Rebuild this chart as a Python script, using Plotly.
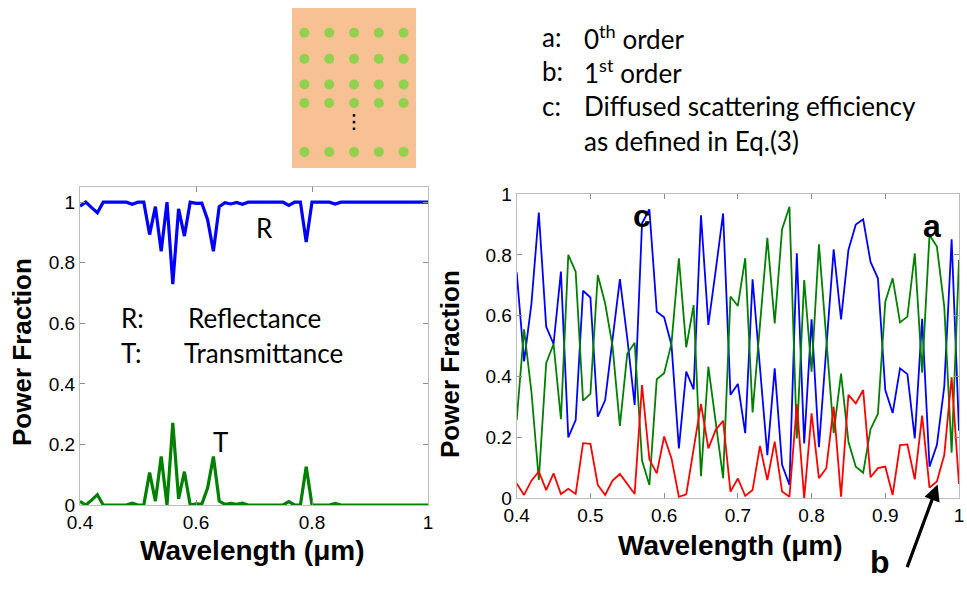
import plotly.graph_objects as go

W, H = 967, 603

# ---------------- data ----------------
wavelength = [0.40, 0.41, 0.42, 0.43, 0.44, 0.45, 0.46, 0.47, 0.48, 0.49,
              0.50, 0.51, 0.52, 0.53, 0.54, 0.55, 0.56, 0.57, 0.58, 0.59,
              0.60, 0.61, 0.62, 0.63, 0.64, 0.65, 0.66, 0.67, 0.68, 0.69,
              0.70, 0.71, 0.72, 0.73, 0.74, 0.75, 0.76, 0.77, 0.78, 0.79,
              0.80, 0.81, 0.82, 0.83, 0.84, 0.85, 0.86, 0.87, 0.88, 0.89,
              0.90, 0.91, 0.92, 0.93, 0.94, 0.95, 0.96, 0.97, 0.98, 0.99, 1.00]

reflectance = [0.987, 1.0, 0.982, 0.965, 1.0, 1.0, 1.0, 1.0, 1.0, 0.993,
               1.0, 1.0, 0.893, 0.985, 0.838, 1.0, 0.729, 0.978, 0.888, 1.0,
               0.996, 0.997, 0.942, 0.838, 0.985, 0.998, 0.994, 0.999, 0.993, 1.0,
               1.0, 1.0, 1.0, 1.0, 1.0, 1.0, 0.989, 1.0, 1.0, 0.868,
               1.0, 1.0, 1.0, 1.0, 0.994, 1.0, 1.0, 1.0, 1.0, 1.0,
               1.0, 1.0, 1.0, 1.0, 1.0, 1.0, 0.999, 0.999, 0.999, 1.0, 1.0]

transmittance = [0.012, 0.0, 0.016, 0.034, 0.0, 0.0, 0.0, 0.0, 0.0, 0.006,
                 0.0, 0.0, 0.107, 0.013, 0.16, 0.0, 0.271, 0.02, 0.11, 0.0,
                 0.004, 0.003, 0.056, 0.16, 0.013, 0.002, 0.005, 0.002, 0.006, 0.0,
                 0.0, 0.0, 0.0, 0.0, 0.0, 0.0, 0.011, 0.0, 0.0, 0.126,
                 0.0, 0.0, 0.0, 0.0, 0.005, 0.0, 0.0, 0.0, 0.0, 0.0,
                 0.0, 0.0, 0.0, 0.0, 0.0, 0.0, 0.001, 0.001, 0.001, 0.0, 0.0]

order0 = [0.743, 0.45, 0.64, 0.939, 0.564, 0.507, 0.745, 0.2, 0.257, 0.682,
          0.66, 0.268, 0.323, 0.52, 0.72, 0.526, 0.307, 0.904, 0.95, 0.613,
          0.595, 0.504, 0.164, 0.416, 0.358, 0.93, 0.57, 0.75, 0.936, 0.34,
          0.376, 0.214, 0.72, 0.43, 0.142, 0.427, 0.11, 0.044, 0.805, 0.18,
          0.588, 0.168, 0.48, 0.818, 0.588, 0.816, 0.9, 0.917, 0.777, 0.723,
          0.356, 0.28, 0.427, 0.408, 0.197, 0.59, 0.104, 0.175, 0.367, 0.851, 0.222]

diffuse = [0.257, 0.555, 0.35, 0.06, 0.444, 0.507, 0.26, 0.8, 0.745, 0.321,
           0.343, 0.734, 0.64, 0.5, 0.238, 0.476, 0.511, 0.124, 0.044, 0.391,
           0.411, 0.509, 0.789, 0.496, 0.635, 0.073, 0.433, 0.257, 0.066, 0.663,
           0.632, 0.789, 0.282, 0.57, 0.856, 0.575, 0.884, 0.958, 0.197, 0.717,
           0.416, 0.835, 0.52, 0.214, 0.41, 0.186, 0.104, 0.084, 0.227, 0.277,
           0.646, 0.723, 0.578, 0.597, 0.805, 0.413, 0.865, 0.827, 0.63, 0.15, 0.783]

order1 = [0.049, 0.011, 0.058, 0.088, 0.027, 0.082, 0.014, 0.031, 0.014, 0.181,
          0.179, 0.044, 0.011, 0.058, 0.08, 0.049, 0.014, 0.372, 0.128, 0.082,
          0.203, 0.131, 0.005, 0.013, 0.16, 0.31, 0.164, 0.225, 0.255, 0.022,
          0.065, 0.008, 0.027, 0.172, 0.06, 0.186, 0.022, 0.005, 0.309, 0.0,
          0.279, 0.066, 0.099, 0.301, 0.005, 0.34, 0.312, 0.356, 0.069, 0.099,
          0.104, 0.011, 0.175, 0.177, 0.062, 0.272, 0.035, 0.055, 0.142, 0.398, 0.047]

left_xticks = [0.4, 0.6, 0.8, 1.0]
left_xlabels = ["0.4", "0.6", "0.8", "1"]
right_xticks = [0.4, 0.5, 0.6, 0.7, 0.8, 0.9, 1.0]
right_xlabels = ["0.4", "0.5", "0.6", "0.7", "0.8", "0.9", "1"]
yticks = [0, 0.2, 0.4, 0.6, 0.8, 1.0]
ylabels = ["0", "0.2", "0.4", "0.6", "0.8", "1"]

# schematic lattice (unit-cell grid indices)
lattice_cols = [1, 2, 3, 4, 5]
lattice_rows = [1.0, 2.05, 3.08, 3.83, 5.8]
ellipsis_rows = [4.33, 4.6, 4.87]

# ---------------- helpers ----------------
def px(x):
    return x / W

def py(y):
    return 1 - y / H

BLUE = "#0000FF"
GREEN = "#008000"
RED = "#FF0000"
AXC = "#BDBDBD"
TICKFONT = dict(family="Liberation Sans, Arial, sans-serif", size=19, color="black")
TXTFONT = "Lato, Carlito, Calibri, sans-serif"

fig = go.Figure()

# left plot
fig.add_trace(go.Scatter(x=wavelength, y=reflectance, mode="lines",
                         line=dict(color=BLUE, width=3.2), xaxis="x", yaxis="y",
                         showlegend=False, hoverinfo="skip"))
fig.add_trace(go.Scatter(x=wavelength, y=transmittance, mode="lines",
                         line=dict(color=GREEN, width=3.2), xaxis="x", yaxis="y",
                         showlegend=False, hoverinfo="skip"))
# right plot
fig.add_trace(go.Scatter(x=wavelength, y=order0, mode="lines",
                         line=dict(color=BLUE, width=1.8), xaxis="x2", yaxis="y2",
                         showlegend=False, hoverinfo="skip"))
fig.add_trace(go.Scatter(x=wavelength, y=diffuse, mode="lines",
                         line=dict(color=GREEN, width=1.8), xaxis="x2", yaxis="y2",
                         showlegend=False, hoverinfo="skip"))
fig.add_trace(go.Scatter(x=wavelength, y=order1, mode="lines",
                         line=dict(color=RED, width=1.8), xaxis="x2", yaxis="y2",
                         showlegend=False, hoverinfo="skip"))

# schematic dots
sx, sy = [], []
for r in lattice_rows:
    for c in lattice_cols:
        sx.append(c)
        sy.append(r)
fig.add_trace(go.Scatter(x=sx, y=sy, mode="markers",
                         marker=dict(color="#92D050", size=10, line=dict(width=0)),
                         xaxis="x3", yaxis="y3", showlegend=False, hoverinfo="skip"))
fig.add_trace(go.Scatter(x=[3] * len(ellipsis_rows), y=ellipsis_rows, mode="markers",
                         marker=dict(color="black", size=2.5, symbol="square", line=dict(width=0)),
                         xaxis="x3", yaxis="y3", showlegend=False, hoverinfo="skip"))

axis_common = dict(showgrid=False, zeroline=False, showline=True, linecolor=AXC,
                   linewidth=1, mirror="ticks", ticks="inside", ticklen=5,
                   tickcolor="#8c8c8c", tickfont=TICKFONT, automargin=False)

fig.update_layout(
    width=W, height=H,
    margin=dict(l=0, r=0, t=0, b=0, autoexpand=False),
    paper_bgcolor="white", plot_bgcolor="white",
    xaxis=dict(domain=[px(80), px(428)], range=[0.4, 1.0], tickvals=left_xticks,
               ticktext=left_xlabels, anchor="y", **axis_common),
    yaxis=dict(domain=[py(505), py(187)], range=[0, 1.05], tickvals=yticks,
               ticktext=ylabels, anchor="x", **axis_common),
    xaxis2=dict(domain=[px(516.7), px(959)], range=[0.4, 1.0], tickvals=right_xticks,
                ticktext=right_xlabels, anchor="y2", **axis_common),
    yaxis2=dict(domain=[py(498.3), py(194)], range=[0, 1.0], tickvals=yticks,
                ticktext=ylabels, anchor="x2", **axis_common),
    xaxis3=dict(domain=[px(292), px(416)], range=[0.5, 5.5], visible=False,
                anchor="y3", fixedrange=True),
    yaxis3=dict(domain=[py(168), py(8)], range=[6.45, 0.0], visible=False,
                anchor="x3", fixedrange=True),
)

# schematic background
fig.add_shape(type="rect", xref="paper", yref="paper",
              x0=px(292), x1=px(416), y0=py(168), y1=py(8),
              fillcolor="#F8C193", line=dict(width=0), layer="below")

ann = []
title_font = dict(family="Liberation Sans, Arial, sans-serif", size=26, color="black")
xtitle_font = dict(family="Liberation Sans, Arial, sans-serif", size=28, color="black")
# axis titles
ann.append(dict(x=px(22), y=py(352), text="<b>Power Fraction</b>", textangle=-90,
                font=title_font))
ann.append(dict(x=px(450), y=py(364), text="<b>Power Fraction</b>", textangle=-90,
                font=title_font))
ann.append(dict(x=px(252), y=py(550), text="<b>Wavelength (\u03bcm)</b>", font=xtitle_font))
ann.append(dict(x=px(730), y=py(545), text="<b>Wavelength (\u03bcm)</b>", font=xtitle_font))

lf = dict(family=TXTFONT, size=26, color="black")
ann.append(dict(x=px(264), y=py(228), text="R", font=lf))
ann.append(dict(x=px(220), y=py(442), text="T", font=lf))
ann.append(dict(x=px(119), y=py(318), text="R:", font=lf, xanchor="left"))
ann.append(dict(x=px(186), y=py(318), text="Reflectance", font=lf, xanchor="left"))
ann.append(dict(x=px(119), y=py(353), text="T:", font=lf, xanchor="left"))
ann.append(dict(x=px(182), y=py(353), text="Transmittance", font=lf, xanchor="left"))

tf = dict(family=TXTFONT, size=26, color="black")
ann.append(dict(x=px(540), y=py(37), text="a:", font=tf, xanchor="left"))
ann.append(dict(x=px(582), y=py(37), text="0<sup>th</sup> order", font=tf, xanchor="left"))
ann.append(dict(x=px(540), y=py(71), text="b:", font=tf, xanchor="left"))
ann.append(dict(x=px(582), y=py(71), text="1<sup>st</sup> order", font=tf, xanchor="left"))
ann.append(dict(x=px(540), y=py(106), text="c:", font=tf, xanchor="left"))
ann.append(dict(x=px(582), y=py(106), text="Diffused scattering efficiency", font=tf, xanchor="left"))
ann.append(dict(x=px(582), y=py(141), text="as defined in Eq.(3)", font=tf, xanchor="left"))

bf = dict(family="Liberation Sans, Arial, sans-serif", size=32, color="black")
ann.append(dict(x=px(642), y=py(216), text="<b>c</b>", font=bf))
ann.append(dict(x=px(932), y=py(226), text="<b>a</b>", font=bf))
ann.append(dict(x=px(880), y=py(562), text="<b>b</b>", font=bf))

for a in ann:
    a.setdefault("xref", "paper")
    a.setdefault("yref", "paper")
    a.setdefault("showarrow", False)
    a.setdefault("yanchor", "middle")
    a.setdefault("xanchor", "center")
fig.update_layout(annotations=ann)

# arrow pointing to the 1st-order curve
fig.add_annotation(x=0.971, y=0.045, xref="x2", yref="y2", ax=-31, ay=84,
                   axref="pixel", ayref="pixel", showarrow=True, arrowhead=2,
                   arrowsize=1.0, arrowwidth=3.2, arrowcolor="black", text="")

fig.write_html("out.html", config={"displayModeBar": False},
               post_script="document.body.style.margin='0';document.body.style.overflow='hidden';")
